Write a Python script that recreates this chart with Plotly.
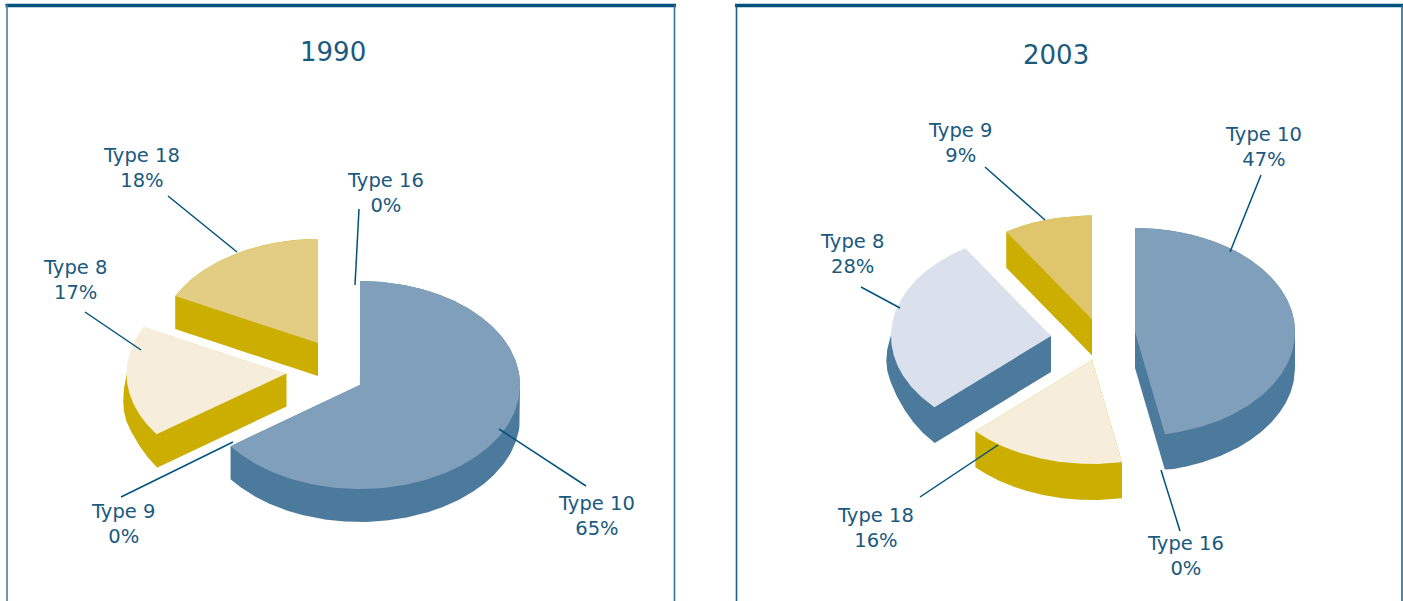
import numpy as np
import plotly.graph_objects as go

# ---- data ----
years = ["1990", "2003"]
types_1990 = ["Type 10", "Type 9", "Type 8", "Type 18", "Type 16"]
values_1990 = [65, 0, 17.45, 17.55, 0]
types_2003 = ["Type 10", "Type 16", "Type 18", "Type 8", "Type 9"]
values_2003 = [47, 0, 16, 28, 9]

# ---- styles ----
INK = "#1a5a7e"
BAR = "#00527c"
BLUE_TOP, BLUE_SIDE = "#7f9fba", "#4b7a9d"
GOLD_SIDE = "#ccae00"
TOPS = {"1990": {"Type 10": BLUE_TOP, "Type 8": "#f6eeda", "Type 18": "#e2cd82"},
        "2003": {"Type 10": BLUE_TOP, "Type 18": "#f6eeda", "Type 8": "#dae0ec", "Type 9": "#dfc66d"}}
SIDES = {"1990": {"Type 10": BLUE_SIDE, "Type 8": GOLD_SIDE, "Type 18": GOLD_SIDE},
         "2003": {"Type 10": BLUE_SIDE, "Type 18": GOLD_SIDE, "Type 8": BLUE_SIDE, "Type 9": GOLD_SIDE}}
# layout of each exploded slice's apex on the canvas
APEX = {"1990": {"Type 10": (360, 385), "Type 8": (286.5, 373.5), "Type 18": (318, 343)},
        "2003": {"Type 10": (1135, 332), "Type 18": (1092, 360), "Type 8": (1051, 336), "Type 9": (1092, 319.5)}}
RX, RY = 160, 104
DEPTH = {"1990": 33, "2003": 36}
# the left-hand slices show a rim that leans a little past the top face
RIM = {"1990": {"Type 8": 3.5}, "2003": {"Type 8": 8}}
LEADERS = {"1990": {"Type 18": ((168, 196), (237, 252)), "Type 16": ((359, 209), (355, 285)),
                    "Type 8": ((85, 312), (141, 350)), "Type 9": ((121, 497), (233, 442)),
                    "Type 10": ((499, 429), (586, 486))},
           "2003": {"Type 9": ((985, 167), (1045, 220)), "Type 10": ((1261, 175), (1230, 252)),
                    "Type 8": ((861, 287), (900, 308)), "Type 18": ((920, 497), (998, 445)),
                    "Type 16": ((1161, 470), (1180, 531))}}
LABEL_AT = {"1990": {"Type 18": (141, 168), "Type 16": (385, 193), "Type 8": (75, 280),
                     "Type 9": (123, 524), "Type 10": (596, 516)},
            "2003": {"Type 9": (960, 143), "Type 10": (1263, 146.5), "Type 8": (852, 254),
                     "Type 18": (875, 528), "Type 16": (1185, 556)}}
TITLE_AT = {"1990": (333, 52), "2003": (1056, 55)}
FONT = "DejaVu Sans"


def wedge(apex, a0, a1):
    """Outline of a slice from fractions a0..a1 clockwise from 12 o'clock."""
    t = np.linspace(a0, a1, 200) * 2 * np.pi
    x = np.r_[apex[0], apex[0] + RX * np.sin(t), apex[0]]
    y = np.r_[apex[1], apex[1] - RY * np.cos(t), apex[1]]
    return x, y


def extrusion(x, y, depth):
    """Outline swept by the wedge outline moved straight down."""
    xs = np.linspace(x.min(), x.max(), 500)
    lo, hi = np.full(xs.shape, np.inf), np.full(xs.shape, -np.inf)
    for i in range(len(x) - 1):
        x0, x1, y0, y1 = x[i], x[i + 1], y[i], y[i + 1]
        if x1 == x0:
            continue
        m = (xs >= min(x0, x1)) & (xs <= max(x0, x1))
        yy = y0 + (xs[m] - x0) * (y1 - y0) / (x1 - x0)
        lo[m] = np.minimum(lo[m], yy)
        hi[m] = np.maximum(hi[m], yy)
    ok = np.isfinite(lo)
    return np.r_[xs[ok], xs[ok][::-1]], np.r_[lo[ok], hi[ok][::-1] + depth]


def smooth(a, n=61):
    pad = np.r_[np.full(n // 2, a[0]), a, np.full(n // 2, a[-1])]
    return np.convolve(pad, np.ones(n) / n, mode="valid")


def leaning_side(x, y, depth, lean):
    """Side face whose lower arc leans outward around the slice's left edge."""
    u = np.linspace(0, 1, len(x) - 2)
    ox = lean * smooth(np.interp(u, [0, .25, .55, .8, 1], [0, .6, -1.15, -.8, -.5]))
    oy = depth * smooth(np.interp(u, [0, .55, .8, 1], [1, 1, .55, .3]))
    ax, ay = x[0], y[0]
    return np.r_[ax, ax, x[1] , x[1:-1] + ox, ax], np.r_[ay, ay + depth, y[1] + depth, y[1:-1] + oy, ay]


def filled(x, y, color, name=None):
    fig.add_trace(go.Scatter(x=x, y=y, mode="lines", fill="toself", fillcolor=color,
                             line=dict(width=0, color=color), name=name,
                             hoverinfo="skip" if name is None else None, showlegend=False))


fig = go.Figure()
annotations = []
shapes = []

for year, names, vals in [("1990", types_1990, values_1990), ("2003", types_2003, values_2003)]:
    fr = np.r_[0, np.cumsum(vals)] / sum(vals)
    for i, name in enumerate(names):
        if vals[i] == 0:
            continue
        x, y = wedge(APEX[year][name], fr[i], fr[i + 1])
        if name in RIM[year]:
            filled(*leaning_side(x, y, DEPTH[year], RIM[year][name]), SIDES[year][name])
        else:
            filled(*extrusion(x, y, DEPTH[year]), SIDES[year][name])
        filled(x, y, TOPS[year][name], name)
    for i, name in enumerate(names):
        (x0, y0), (x1, y1) = LEADERS[year][name]
        fig.add_trace(go.Scatter(x=[x0, x1], y=[y0, y1], mode="lines", line=dict(width=1.5, color=BAR),
                                 hoverinfo="skip", showlegend=False))
        lx, ly = LABEL_AT[year][name]
        annotations.append(dict(x=lx, y=ly, xref="x", yref="y", showarrow=False, align="center",
                                text=f"{name}<br>{vals[i]:.0f}%", font=dict(family=FONT, size=19.5, color=INK)))
    tx, ty = TITLE_AT[year]
    annotations.append(dict(x=tx, y=ty, xref="x", yref="y", showarrow=False, text=year,
                            font=dict(family=FONT, size=26, color=INK)))

# panel frames
for l, r, cl, cr in [(7, 674.5, "#4a7a9e", "#3a7295"), (736.5, 1402, "#1c5f88", "#2a6a90")]:
    shapes.append(dict(type="line", xref="x", yref="y", x0=l - 1.5, x1=r + 1.5, y0=5.5, y1=5.5, line=dict(color=BAR, width=3.5)))
    shapes.append(dict(type="line", xref="x", yref="y", x0=l, x1=l, y0=5, y1=601, line=dict(color=cl, width=1.6)))
    shapes.append(dict(type="line", xref="x", yref="y", x0=r, x1=r, y0=5, y1=601, line=dict(color=cr, width=1.6)))

fig.update_layout(
    width=1403, height=601, margin=dict(l=0, r=0, t=0, b=0),
    paper_bgcolor="white", plot_bgcolor="white", showlegend=False,
    xaxis=dict(range=[0, 1403], visible=False, fixedrange=True),
    yaxis=dict(range=[601, 0], visible=False, fixedrange=True),
    annotations=annotations, shapes=shapes,
)
fig.write_html("out.html", config={"displayModeBar": False},
               post_script="document.body.style.margin='0';document.body.style.overflow='hidden';")
